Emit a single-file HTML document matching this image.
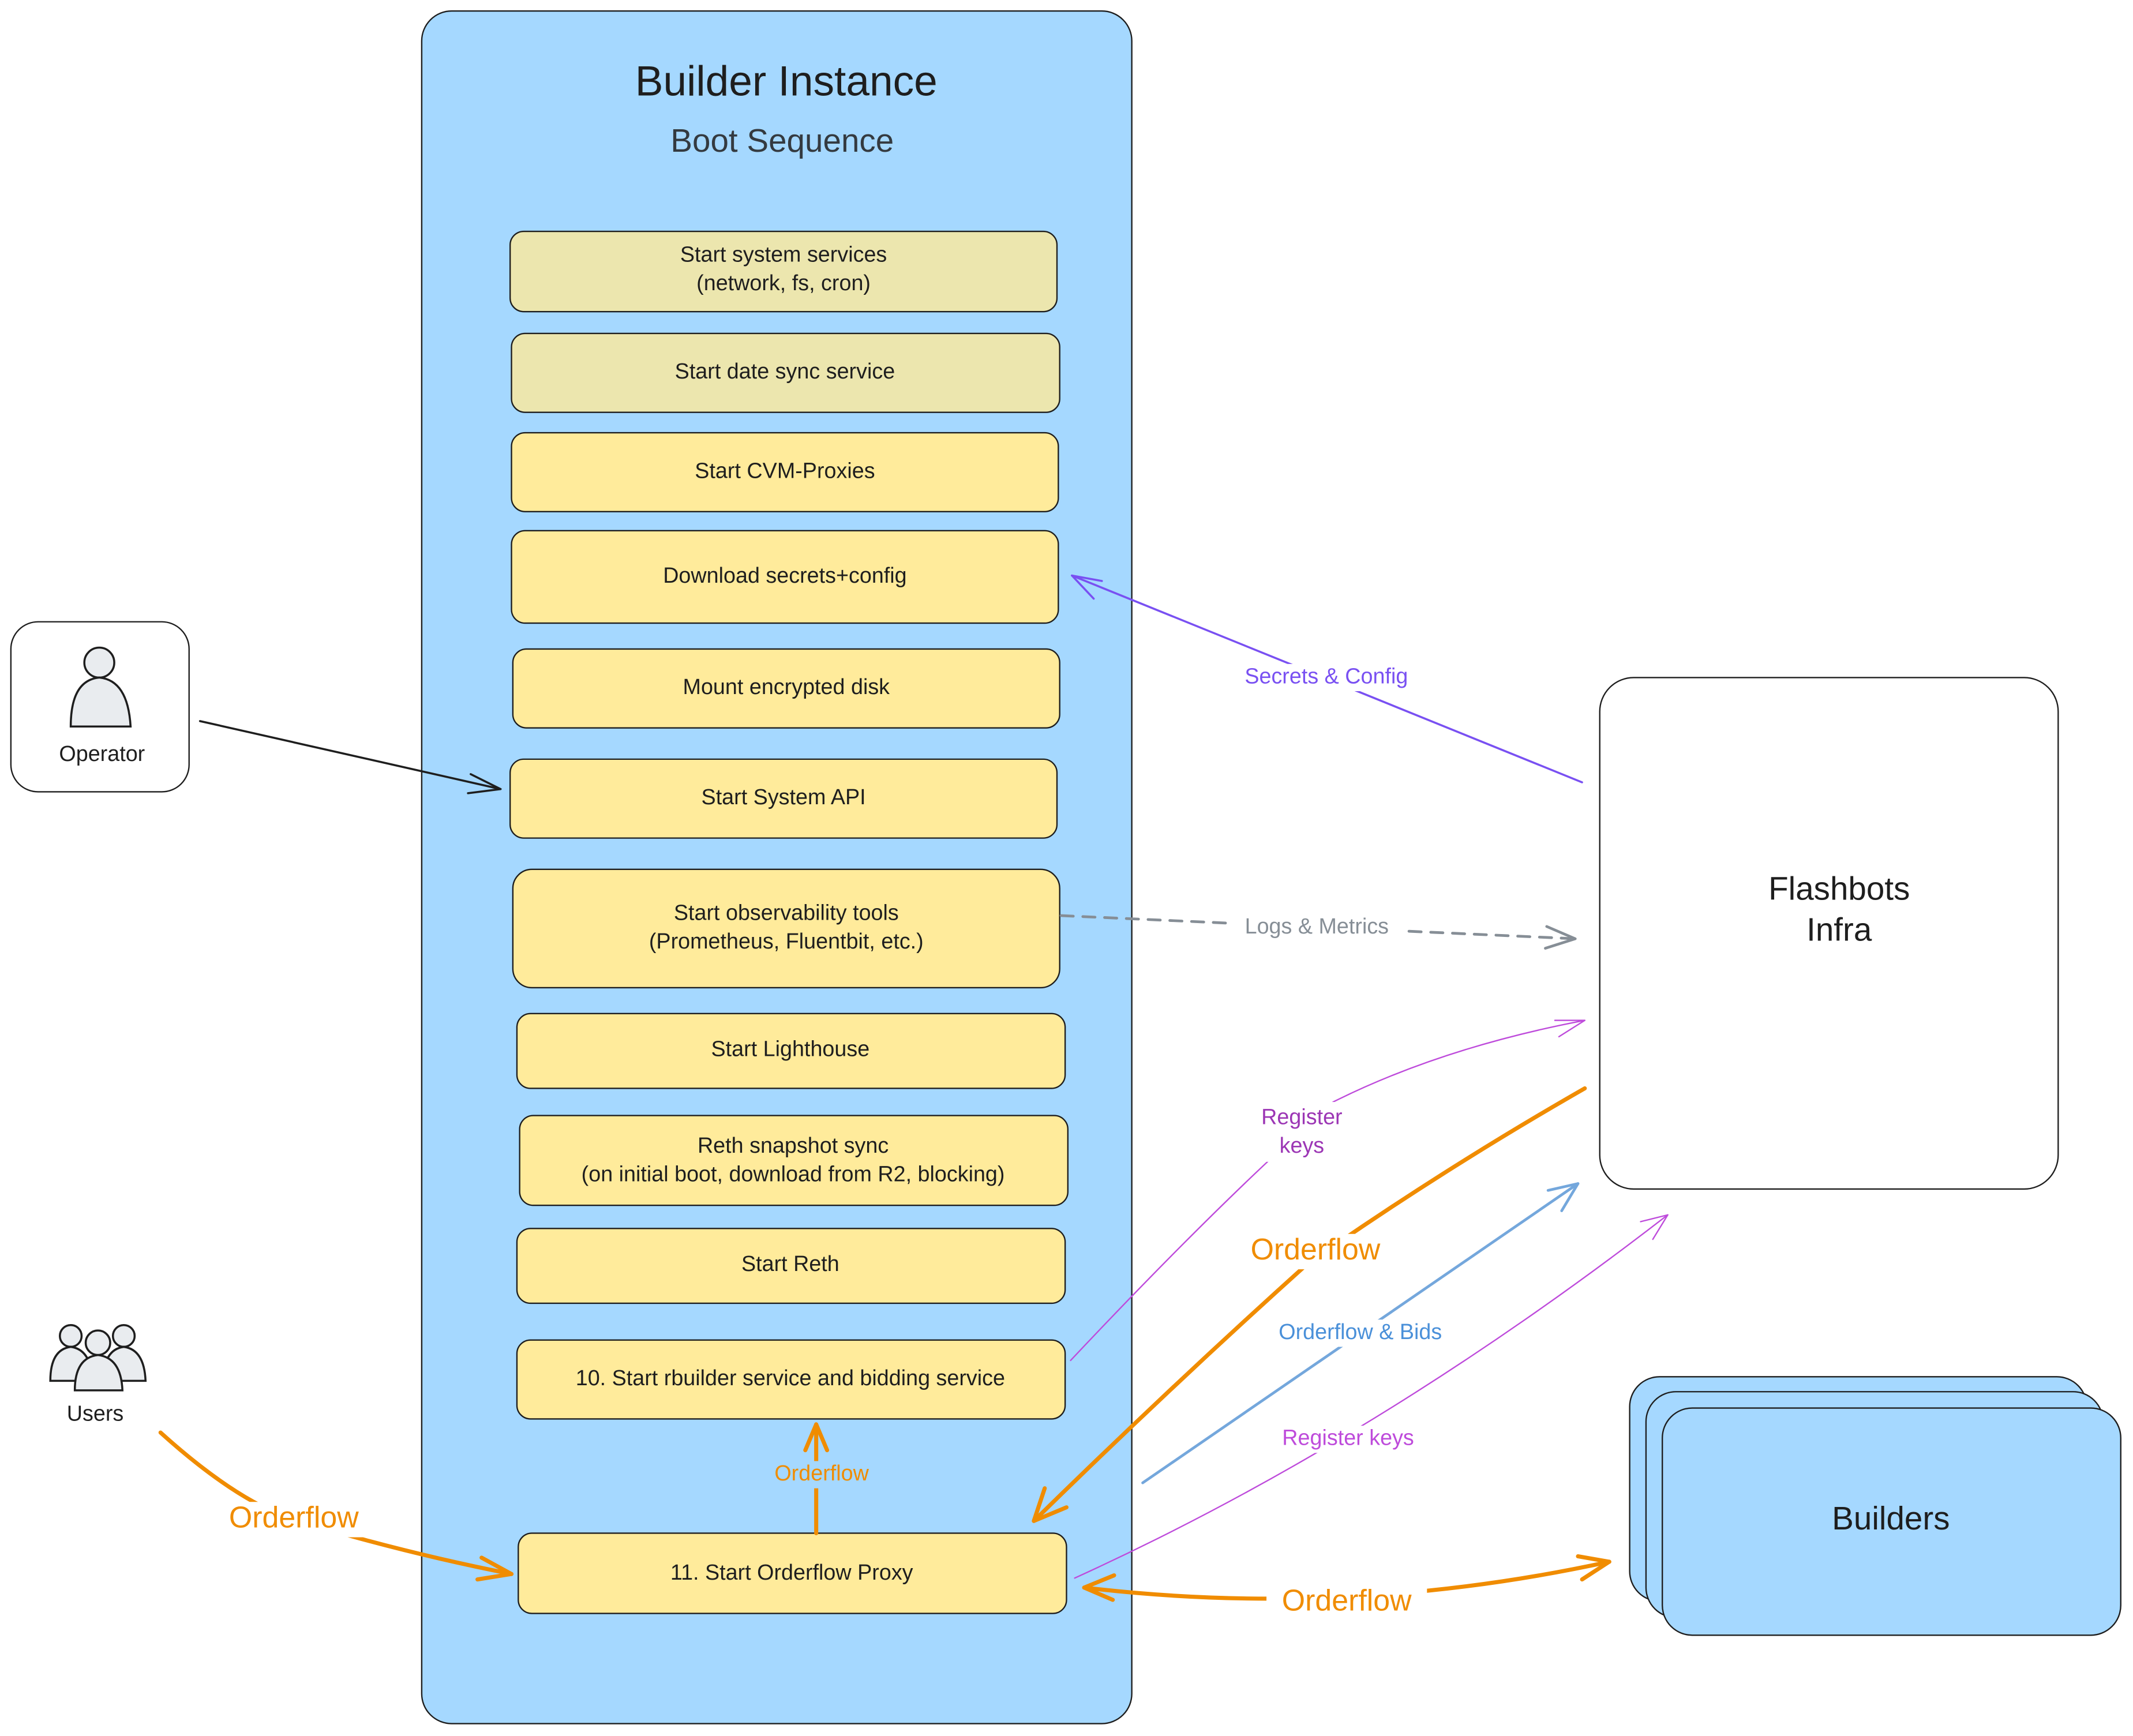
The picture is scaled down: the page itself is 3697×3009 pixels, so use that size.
<!DOCTYPE html>
<html><head><meta charset="utf-8"><style>
html,body{margin:0;padding:0;background:#fff;}
svg{display:block;}
text{font-family:"Liberation Sans","DejaVu Sans",sans-serif;fill:#1e1e1e;text-anchor:middle;dominant-baseline:middle;}
.b{font-size:16px;}
</style></head><body>
<svg width="3697" height="3009" viewBox="0 0 1568 1276" xmlns="http://www.w3.org/2000/svg">
<rect width="1568" height="1276" fill="#fff"/>
<rect x="310" y="8" width="522" height="1259" rx="22" fill="#a5d8ff" stroke="#1e1e1e" stroke-width="1"/>
<text x="578" y="62" font-size="31">Builder Instance</text>
<text x="575" y="105" font-size="24" style="fill:#343a40">Boot Sequence</text>
<g stroke="#1e1e1e" stroke-width="1">
<rect x="375" y="170" width="402" height="59" rx="10" fill="#ece6ae"/>
<rect x="376" y="245" width="403" height="58" rx="10" fill="#ece6ae"/>
<rect x="376" y="318" width="402" height="58" rx="10" fill="#ffeb9b"/>
<rect x="376" y="390" width="402" height="68" rx="10" fill="#ffeb9b"/>
<rect x="377" y="477" width="402" height="58" rx="10" fill="#ffeb9b"/>
<rect x="375" y="558" width="402" height="58" rx="10" fill="#ffeb9b"/>
<rect x="377" y="639" width="402" height="87" rx="14" fill="#ffeb9b"/>
<rect x="380" y="745" width="403" height="55" rx="10" fill="#ffeb9b"/>
<rect x="382" y="820" width="403" height="66" rx="10" fill="#ffeb9b"/>
<rect x="380" y="903" width="403" height="55" rx="10" fill="#ffeb9b"/>
<rect x="380" y="985" width="403" height="58" rx="10" fill="#ffeb9b"/>
<rect x="381" y="1127" width="403" height="59" rx="10" fill="#ffeb9b"/>
<rect x="8" y="457" width="131" height="125" rx="20" fill="#fff"/>
<rect x="1176" y="498" width="337" height="376" rx="25" fill="#fff"/>
<rect x="1198" y="1012" width="336" height="165" rx="22" fill="#a5d8ff"/>
<rect x="1210" y="1023" width="336" height="166" rx="22" fill="#a5d8ff"/>
<rect x="1222" y="1035" width="337" height="167" rx="22" fill="#a5d8ff"/>
</g>
<text class="b" x="576" y="188">Start system services</text>
<text class="b" x="576" y="209">(network, fs, cron)</text>
<text class="b" x="577" y="274">Start date sync service</text>
<text class="b" x="577" y="347">Start CVM-Proxies</text>
<text class="b" x="577" y="424">Download secrets+config</text>
<text class="b" x="578" y="506">Mount encrypted disk</text>
<text class="b" x="576" y="587">Start System API</text>
<text class="b" x="578" y="672">Start observability tools</text>
<text class="b" x="578" y="693">(Prometheus, Fluentbit, etc.)</text>
<text class="b" x="581" y="772">Start Lighthouse</text>
<text class="b" x="583" y="843">Reth snapshot sync</text>
<text class="b" x="583" y="864">(on initial boot, download from R2, blocking)</text>
<text class="b" x="581" y="930">Start Reth</text>
<text class="b" x="581" y="1014">10. Start rbuilder service and bidding service</text>
<text class="b" x="582" y="1157">11. Start Orderflow Proxy</text>
<!-- operator icon -->
<g stroke="#1e1e1e" stroke-width="1.5" fill="#e9ecef">
<circle cx="73" cy="487" r="11"/>
<path d="M52,534 Q52,500 73,498 Q94,500 96,534 Z"/>
</g>
<text class="b" x="75" y="555">Operator</text>
<!-- users icon -->
<g stroke="#1e1e1e" stroke-width="1.5" fill="#e9ecef">
<circle cx="52" cy="982" r="8"/><path d="M37,1015 Q37,992 52,990 Q67,992 68,1015 Z"/>
<circle cx="91" cy="982" r="8"/><path d="M76,1015 Q76,992 91,990 Q106,992 107,1015 Z"/>
<circle cx="72" cy="987" r="9"/><path d="M55,1022 Q55,998 72,996 Q89,998 90,1022 Z"/>
</g>
<text class="b" x="70" y="1040">Users</text>
<text x="1352" y="655" font-size="24">Flashbots</text>
<text x="1352" y="685" font-size="24">Infra</text>
<text x="1390" y="1118" font-size="24">Builders</text>
<g fill="none" stroke-linecap="round" stroke-linejoin="round">
<path d="M147,530 L368,580" stroke="#1e1e1e" stroke-width="1.5"/>
<path d="M346,569 L368,580 L344,583" stroke="#1e1e1e" stroke-width="1.5"/>
<path d="M1163,575 L788,423" stroke="#7950f2" stroke-width="1.5"/>
<path d="M810,427 L788,423 L804,440" stroke="#7950f2" stroke-width="1.5"/>
<path d="M780,673 L1158,690" stroke="#868e96" stroke-width="2" stroke-dasharray="9 7"/>
<path d="M1137,681 L1158,690 L1136,697" stroke="#868e96" stroke-width="2"/>
<path d="M787,1000 Q900,880 980,810 Q1060,770 1165,750" stroke="#be4bdb" stroke-width="1"/>
<path d="M1143,750 L1165,750 L1146,762" stroke="#be4bdb" stroke-width="1"/>
<path d="M1165,800 Q1060,860 960,930 Q860,1020 760,1118" stroke="#f08c00" stroke-width="3"/>
<path d="M768,1094 L760,1118 L784,1108" stroke="#f08c00" stroke-width="3"/>
<path d="M840,1090 L1160,870" stroke="#74a7dc" stroke-width="2"/>
<path d="M1138,875 L1160,870 L1148,890" stroke="#74a7dc" stroke-width="2"/>
<path d="M790,1160 Q1010,1060 1226,893" stroke="#be4bdb" stroke-width="1"/>
<path d="M1206,898 L1226,893 L1215,911" stroke="#be4bdb" stroke-width="1"/>
<path d="M600,1127 L600,1047" stroke="#f08c00" stroke-width="3"/>
<path d="M592,1066 L600,1047 L608,1066" stroke="#f08c00" stroke-width="3"/>
<path d="M118,1053 Q170,1100 210,1115 Q290,1140 376,1157" stroke="#f08c00" stroke-width="3"/>
<path d="M354,1145 L376,1157 L351,1161" stroke="#f08c00" stroke-width="3"/>
<path d="M797,1167 Q990,1190 1183,1148" stroke="#f08c00" stroke-width="3"/>
<path d="M819,1158 L797,1167 L818,1176" stroke="#f08c00" stroke-width="3"/>
<path d="M1160,1144 L1183,1148 L1163,1161" stroke="#f08c00" stroke-width="3"/>
</g>
<g font-size="16">
<rect x="900" y="488" width="150" height="20" fill="#fff"/>
<text x="975" y="498" style="fill:#7950f2">Secrets &amp; Config</text>
<rect x="905" y="672" width="126" height="20" fill="#fff"/>
<text x="968" y="682" style="fill:#868e96">Logs &amp; Metrics</text>
<rect x="920" y="810" width="74" height="44" fill="#fff"/>
<text x="957" y="822" style="fill:#9c36b5">Register</text>
<text x="957" y="843" style="fill:#9c36b5">keys</text>
<rect x="925" y="970" width="150" height="20" fill="#fff"/>
<text x="1000" y="980" style="fill:#4a90d9">Orderflow &amp; Bids</text>
<rect x="932" y="1048" width="118" height="20" fill="#fff"/>
<text x="991" y="1058" style="fill:#be4bdb">Register keys</text>
<rect x="560" y="1074" width="88" height="20" fill="#a5d8ff"/>
<text x="604" y="1084" style="fill:#f08c00">Orderflow</text>
</g>
<g font-size="22">
<rect x="908" y="907" width="118" height="26" fill="#fff"/>
<text x="967" y="920" style="fill:#f08c00">Orderflow</text>
<rect x="157" y="1104" width="118" height="26" fill="#fff"/>
<text x="216" y="1117" style="fill:#f08c00">Orderflow</text>
<rect x="931" y="1165" width="118" height="26" fill="#fff"/>
<text x="990" y="1178" style="fill:#f08c00">Orderflow</text>
</g>
</svg>
</body></html>
